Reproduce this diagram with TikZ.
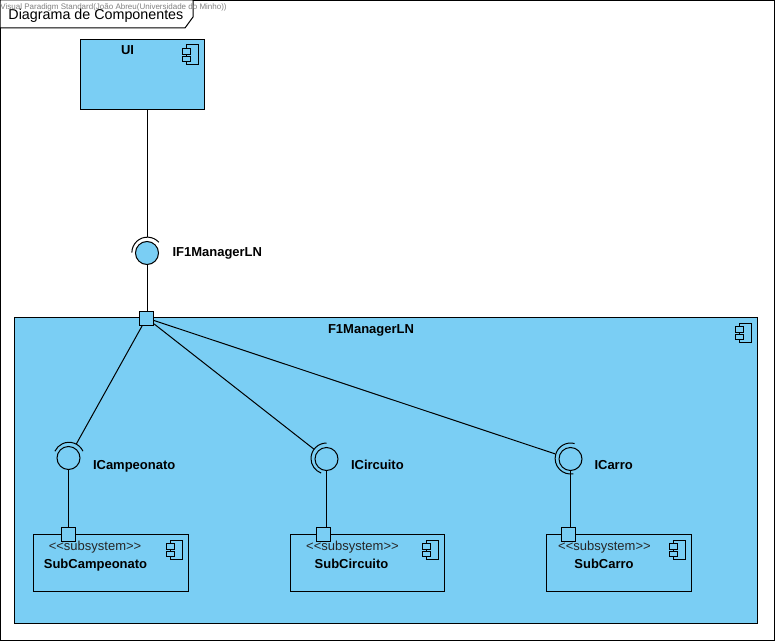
\documentclass[tikz,border=0pt]{standalone}
\usepackage{fontspec}
\setmainfont{Liberation Sans}
\definecolor{compblue}{RGB}{122,206,244}
\tikzset{
  compbox/.style={draw,fill=compblue,line width=1pt},
  port/.style={draw,fill=compblue,line width=1pt,minimum size=14pt,inner sep=0pt},
  ball/.style={circle,draw,fill=compblue,line width=1pt,minimum size=23pt,inner sep=0pt},
  socket/.style={circle,minimum size=31pt,inner sep=0pt},
  title/.style={font=\bfseries\fontsize{13}{15}\selectfont,inner sep=0pt,anchor=base},
  ifacename/.style={title,anchor=base west},
  stereo/.style={font=\fontsize{13}{15}\selectfont,inner sep=0pt,anchor=base west,text=black!85},
  compicon/.pic={
    \draw[line width=1pt] (-12.5,0) rectangle (0,-19.5);
    \draw[compbox] (-16.5,-3.5) rectangle (-8,-9.5);
    \draw[compbox] (-16.5,-11.5) rectangle (-8,-16.5);
  }
}
\newcommand{\subst}{{<}{<}subsystem{>}{>}}
\begin{document}
\begin{tikzpicture}[x=1pt,y=1pt,line width=1pt]
  \useasboundingbox (0,0) rectangle (775,641);
  \fill[white] (0,0) rectangle (775,641);
  % frame
  \draw (0.5,0.5) rectangle (774.5,640.5);
  \draw[fill=white] (0,641) -- (193,641) -- (193,624) -- (185,613) -- (0,613) -- cycle;
  \node[font=\fontsize{8}{10}\selectfont,text=black!50,inner sep=0pt,anchor=west] (vpmark) at (0,634) {Visual Paradigm Standard(João Abreu(Universidade do Minho))};
  \node[font=\fontsize{14.3}{16}\selectfont,inner sep=0pt,anchor=base west] (frametitle) at (8,621) {Diagrama de Componentes};

  % UI
  \node[compbox,minimum width=124pt,minimum height=70pt,inner sep=0pt] (ui) at (142.5,566.5) {};
  \node[title] (uiname) at (127.5,586.5) {UI};
  \pic at (198.5,596) {compicon};

  % F1ManagerLN
  \node[compbox,minimum width=743pt,minimum height=306pt,inner sep=0pt] (mgr) at (386,170.5) {};
  \node[title] (mgrname) at (371,308) {F1ManagerLN};
  \pic at (751.5,318) {compicon};
  \node[port] (mgrport) at (146.5,323) {};

  % subsystems
  \node[compbox,minimum width=155pt,minimum height=57pt,inner sep=0pt] (subcamp) at (111,78) {};
  \node[compbox,minimum width=154pt,minimum height=57pt,inner sep=0pt] (subcirc) at (367.5,78) {};
  \node[compbox,minimum width=145pt,minimum height=57pt,inner sep=0pt] (subcarro) at (619,78) {};
  \node[port] (campport) at (68.5,107) {};
  \node[port] (circport) at (323.5,107) {};
  \node[port] (carroport) at (568.5,107) {};
  \node[stereo] (campstereo) at (48.3,91) {\subst};
  \node[stereo] (circstereo) at (305.7,91) {\subst};
  \node[stereo] (carrostereo) at (557.7,91) {\subst};
  \node[title] (campname) at (95.5,73) {SubCampeonato};
  \node[title] (circname) at (351.5,73) {SubCircuito};
  \node[title] (carroname) at (604,73) {SubCarro};
  \pic at (182.5,101) {compicon};
  \pic at (438.5,101) {compicon};
  \pic at (685.5,101) {compicon};

  % interfaces
  \node[ball] (ifball) at (147,388) {};
  \node[socket] (ifsock) at (147,388) {};
  \node[ball,fill=none] (campball) at (68.5,183) {};
  \node[socket] (campsock) at (68.5,183) {};
  \node[ball,fill=none] (circball) at (326.5,182) {};
  \node[socket] (circsock) at (326.5,182) {};
  \node[ball,fill=none] (carroball) at (570.5,182) {};
  \node[socket] (carrosock) at (570.5,182) {};
  \draw (ifsock.42) arc (42:180:15.5);
  \draw (campsock.25) arc (25:155:15.5);
  \draw (circsock.90) arc (90:250:15.5);
  \draw (carrosock.75) arc (75:280:15.5);
  \node[ifacename] (ifname) at (172,385) {IF1ManagerLN};
  \node[ifacename] (campiname) at (92.5,172) {ICampeonato};
  \node[ifacename] (circiname) at (350.5,172) {ICircuito};
  \node[ifacename] (carroiname) at (594,172) {ICarro};

  % connectors
  \draw (ui.south -| ifsock) -- (ifsock.north);
  \draw (ifball.south) -- (mgrport.north -| ifball);
  \draw (mgrport) -- (campsock);
  \draw (mgrport) -- (circsock);
  \draw (mgrport) -- (carrosock);
  \draw (campball.south) -- (campport.north -| campball);
  \draw (circball.south) -- (circport.north -| circball);
  \draw (carroball.south) -- (carroport.north -| carroball);
\end{tikzpicture}
\end{document}
